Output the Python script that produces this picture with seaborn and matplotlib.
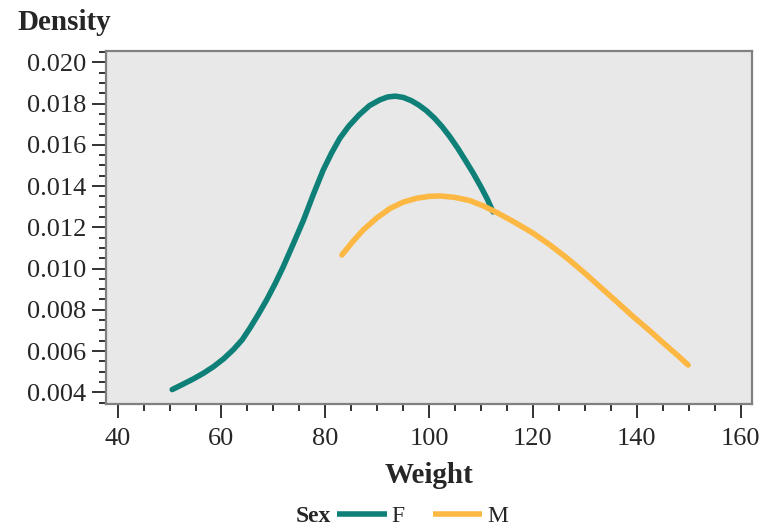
import numpy as np
import pandas as pd
import seaborn as sns
import matplotlib.pyplot as plt
from matplotlib.ticker import MultipleLocator, FormatStrFormatter

# density curves
weight_f = [50.5, 52.5, 54.6, 56.5, 58.4, 60.4, 62.3, 64.0, 65.5, 67.1, 68.7, 70.3,
            71.9, 73.8, 75.8, 77.7, 79.6, 81.2, 82.8, 84.5, 86.5, 88.5, 90.5, 92.0,
            93.5, 95.0, 96.5, 98.0, 99.5, 101.0, 102.5, 104.0, 105.5, 107.0, 108.5,
            110.0, 111.2, 112.3]
density_f = [0.00413, 0.00438, 0.00465, 0.00492, 0.00523, 0.00562, 0.00607, 0.00655,
             0.00712, 0.00778, 0.00848, 0.00925, 0.01009, 0.01118, 0.01235, 0.01360,
             0.01478, 0.01560, 0.01632, 0.01690, 0.01745, 0.01790, 0.01818, 0.01832,
             0.01836, 0.01830, 0.01815, 0.01793, 0.01765, 0.01730, 0.01688, 0.01639,
             0.01584, 0.01524, 0.01462, 0.01395, 0.01337, 0.01275]

weight_m = [83.2, 85.2, 87.3, 89.9, 92.5, 95.0, 97.6, 100.0, 102.1, 105.0, 107.9,
            110.5, 113.0, 116.5, 120.0, 123.3, 126.5, 129.7, 132.9, 136.1, 139.3,
            142.5, 145.8, 147.9, 149.9]
density_m = [0.01066, 0.01128, 0.01187, 0.01245, 0.01292, 0.01322, 0.01341, 0.01350,
             0.01352, 0.01345, 0.01329, 0.01303, 0.01272, 0.01224, 0.01172, 0.01114,
             0.01052, 0.00984, 0.00912, 0.00840, 0.00767, 0.00698, 0.00624, 0.00578,
             0.00532]

sex_levels = ["F", "M"]
colors = {"F": "#0E8078", "M": "#FDB843"}

df = pd.concat([
    pd.DataFrame({"Weight": weight_f, "Density": density_f, "Sex": "F"}),
    pd.DataFrame({"Weight": weight_m, "Density": density_m, "Sex": "M"}),
])

sns.set_style("white")
plt.rcParams["font.family"] = ["Liberation Serif", "DejaVu Serif"]

fig = plt.figure(figsize=(7.63, 5.28), dpi=100)
ax = fig.add_axes([106 / 763, 1 - 404 / 528, (752 - 106) / 763, (404 - 51) / 528])
ax.set_facecolor("#E8E8E8")

sns.lineplot(data=df, x="Weight", y="Density", hue="Sex", hue_order=sex_levels,
             palette=colors, linewidth=4, sort=False, estimator=None, ax=ax)
for line in ax.get_lines():
    line.set_solid_capstyle("round")
    line.set_solid_joinstyle("round")

ax.set_xlim(37.75, 162.2)
ax.set_ylim(0.00343, 0.02055)

ax.xaxis.set_major_locator(MultipleLocator(20))
ax.xaxis.set_minor_locator(MultipleLocator(5))
ax.yaxis.set_major_locator(MultipleLocator(0.002))
ax.yaxis.set_minor_locator(MultipleLocator(0.0005))
ax.yaxis.set_major_formatter(FormatStrFormatter("%.3f"))

ax.tick_params(axis="both", which="major", direction="out", length=10, width=1.3,
               color="#222222", labelsize=19, pad=4, left=True, bottom=True)
ax.tick_params(axis="x", which="major", pad=7)
ax.tick_params(axis="both", which="minor", direction="out", length=5, width=1.3,
               color="#222222", left=True, bottom=True)

for spine in ax.spines.values():
    spine.set_visible(True)
    spine.set_color("#808080")
    spine.set_linewidth(1.6)

ax.set_xlabel("Weight", fontsize=21, fontweight="bold", labelpad=9)
ax.set_ylabel("")
fig.text(17 / 763, 1 - 22 / 528, "Density", fontsize=21, fontweight="bold",
         ha="left", va="center")

handles, labels = ax.get_legend_handles_labels()
ax.get_legend().remove()
for h in handles:
    h.set_solid_capstyle("butt")
fig.legend(handles, labels, loc="center left", bbox_to_anchor=(337 / 763, 12 / 528),
           ncol=2, frameon=False, fontsize=17, handlelength=2.1, handletextpad=0.2,
           columnspacing=1.2, borderpad=0, borderaxespad=0)
fig.text(296 / 763, 12 / 528, "Sex", fontsize=17, fontweight="bold",
         ha="left", va="center")

fig.savefig("out.png", dpi=100)
